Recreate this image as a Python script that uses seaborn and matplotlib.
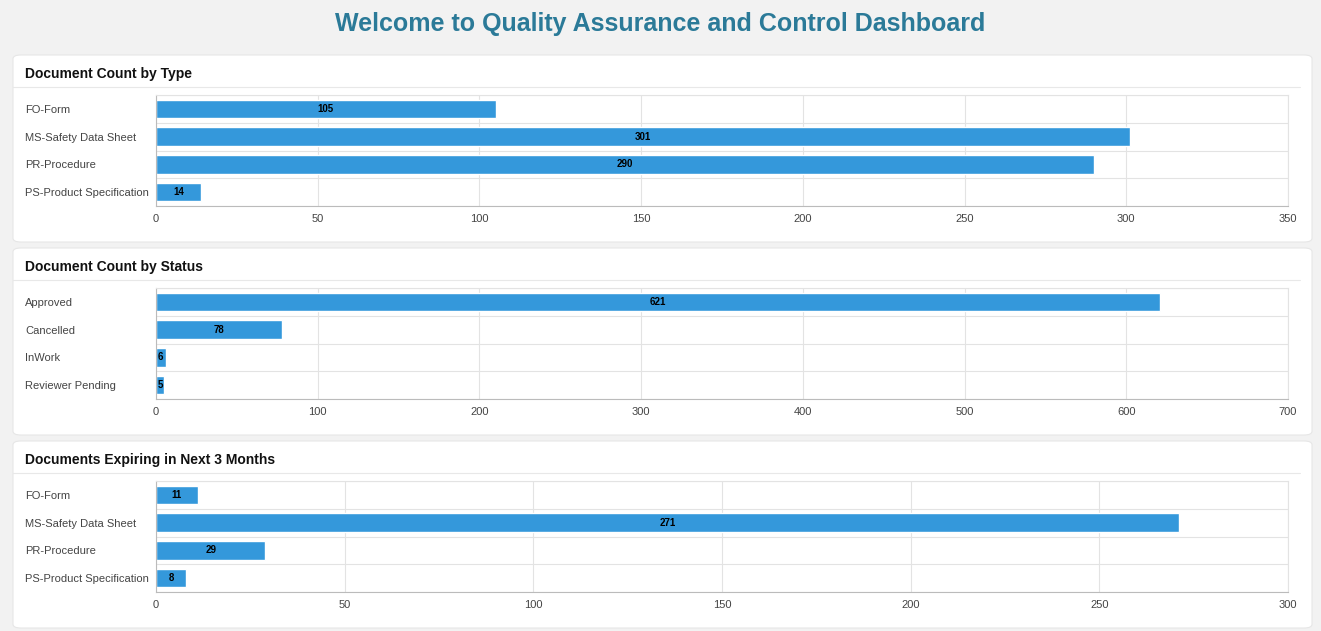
import matplotlib
matplotlib.use("Agg")
import matplotlib.pyplot as plt
from matplotlib.patches import FancyBboxPatch
import pandas as pd
import seaborn as sns

# data
type_cats = ["FO-Form", "MS-Safety Data Sheet", "PR-Procedure", "PS-Product Specification"]
type_counts = [105, 301, 290, 14]
status_cats = ["Approved", "Cancelled", "InWork", "Reviewer Pending"]
status_counts = [621, 78, 6, 5]
expiring_cats = ["FO-Form", "MS-Safety Data Sheet", "PR-Procedure", "PS-Product Specification"]
expiring_counts = [11, 271, 29, 8]

sns.set_theme(style="white")
plt.rcParams["font.family"] = ["Liberation Sans", "DejaVu Sans"]

W, H = 1321, 631
fig = plt.figure(figsize=(W / 100, H / 100), dpi=100)
fig.patch.set_facecolor("#f2f2f2")

fig.text(0.5, 1 - 24 / H, "Welcome to Quality Assurance and Control Dashboard",
         ha="center", va="center", fontsize=18, fontweight="bold", color="#2b7a98")

panels = [
    ("Document Count by Type", type_cats, type_counts, 350, 50, 55),
    ("Document Count by Status", status_cats, status_counts, 700, 100, 248),
    ("Documents Expiring in Next 3 Months", expiring_cats, expiring_counts, 300, 50, 441),
]

for title, cats, vals, xmax, step, top in panels:
    # white card, drawn below the axes
    card = FancyBboxPatch((13 / W, 1 - (top + 187) / H), 1299 / W, 187 / H,
                          boxstyle="round,pad=0,rounding_size=0.006",
                          transform=fig.transFigure, facecolor="white",
                          edgecolor="#e6e6e6", linewidth=0.8, zorder=-10)
    fig.add_artist(card)
    fig.text(25 / W, 1 - (top + 19) / H, title, ha="left", va="center",
             fontsize=10, fontweight="bold", color="#111111")
    fig.add_artist(plt.Line2D([13 / W, 1300 / W], [1 - (top + 32) / H] * 2,
                              transform=fig.transFigure, color="#e8e8e8",
                              linewidth=0.8, zorder=-9))

    ax = fig.add_axes([156 / W, 1 - (top + 151) / H, 1132 / W, 111 / H])
    ax.set_facecolor("none")
    df = pd.DataFrame({"cat": cats, "val": vals})
    sns.barplot(data=df, y="cat", x="val", orient="h", color="#3498db",
                saturation=1, width=0.66, ax=ax)
    for i, v in enumerate(vals):
        ax.text(v / 2, i, str(v), ha="center", va="center", fontsize=7,
                fontweight="bold", color="black")
    ax.set_xlim(0, xmax)
    ax.set_ylim(len(cats) - 0.5, -0.5)
    ax.set_xticks(range(0, xmax + 1, step))
    ax.set_yticks(range(len(cats)), minor=False)
    ax.set_yticks([i + 0.5 for i in range(-1, len(cats))], minor=True)
    ax.set_xlabel("")
    ax.set_ylabel("")
    ax.grid(axis="x", color="#e3e3e3", linewidth=0.8)
    ax.grid(axis="y", which="minor", color="#e3e3e3", linewidth=0.8)
    ax.set_axisbelow(True)
    ax.tick_params(axis="y", which="both", length=0, pad=94)
    ax.tick_params(axis="x", length=0, pad=6)
    for lab in ax.get_yticklabels():
        lab.set_ha("left")
    ax.tick_params(labelsize=8, colors="#444444")
    for s in ax.spines.values():
        s.set_color("#e3e3e3")
        s.set_linewidth(0.8)
    ax.spines["bottom"].set_color("#bbbbbb")
    ax.spines["left"].set_color("#bbbbbb")

fig.savefig("out.png", dpi=100, facecolor=fig.get_facecolor())
